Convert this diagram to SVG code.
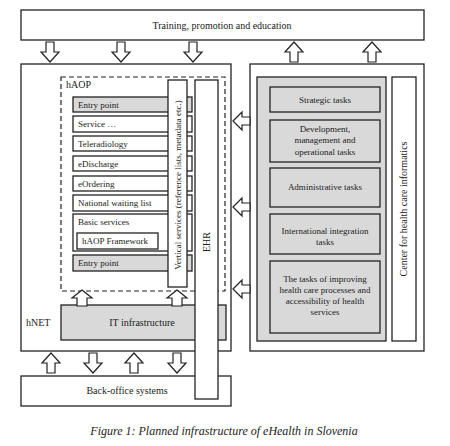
<svg xmlns="http://www.w3.org/2000/svg" width="450" height="446" viewBox="0 0 450 446" font-family="'Liberation Serif', 'Times New Roman', serif">
<style>
  text { font-family: 'Liberation Serif', 'Times New Roman', serif; fill: #222; }
  .box { fill: #fff; stroke: #222; stroke-width: 1.3; }
  .gbox { fill: #d9d9d9; stroke: #222; stroke-width: 1.3; }
  .dash { fill: none; stroke: #222; stroke-width: 1.2; stroke-dasharray: 5 3; }
  .arr { fill: #fff; stroke: #222; stroke-width: 1.2; stroke-linejoin: miter; }
  .t9 { font-size: 9px; }
  .t10 { font-size: 10px; }
  .mid { text-anchor: middle; }
</style>
<defs>
  <path id="down" d="M-4,0 h8 v10 h5 l-9,10 l-9,-10 h5 z"/>
  <path id="up" d="M0,0 l9,10 h-5 v10 h-8 v-10 h-5 z"/>
  <path id="upS" d="M0,0 l10,8 h-5 v8 h-10 v-8 h-5 z"/>
  <path id="left" d="M0,0 l9,-9 v5 h8 v8 h-8 v5 z"/>
</defs>

<g id="training">
  <rect class="box" x="21" y="10" width="403" height="30"/>
  <text class="t10 mid" x="222" y="29">Training, promotion and education</text>
</g>

<g id="hnet">
  <rect class="box" x="21" y="64" width="210" height="287"/>
  <text class="t10" x="26" y="326">hNET</text>
</g>

<g id="haop">
  <rect class="dash" x="61" y="77" width="164" height="214"/>
  <text class="t10" x="66" y="88">hAOP</text>
</g>

<g id="entry-top">
  <rect class="gbox" x="73" y="97" width="119" height="15"/>
  <text class="t9" x="78" y="108">Entry point</text>
</g>
<g id="service">
  <rect class="box" x="73" y="116" width="119" height="16"/>
  <text class="t9" x="78" y="127">Service …</text>
</g>
<g id="teleradiology">
  <rect class="box" x="73" y="136" width="119" height="15"/>
  <text class="t9" x="78" y="147">Teleradiology</text>
</g>
<g id="edischarge">
  <rect class="box" x="73" y="156" width="119" height="15"/>
  <text class="t9" x="78" y="167">eDischarge</text>
</g>
<g id="eordering">
  <rect class="box" x="73" y="176" width="119" height="15"/>
  <text class="t9" x="78" y="187">eOrdering</text>
</g>
<g id="waiting-list">
  <rect class="box" x="73" y="195" width="119" height="16"/>
  <text class="t9" x="78" y="206">National waiting list</text>
</g>
<g id="basic-services">
  <rect class="box" x="73" y="214" width="119" height="37"/>
  <text class="t9" x="78" y="225">Basic services</text>
</g>
<g id="haop-framework">
  <rect class="box" x="77" y="233" width="81" height="16"/>
  <text class="t9" x="82" y="244">hAOP Framework</text>
</g>
<g id="entry-bottom">
  <rect class="gbox" x="73" y="255" width="119" height="16"/>
  <text class="t9" x="78" y="266">Entry point</text>
</g>

<g id="vertical-services">
  <rect class="box" x="168" y="80" width="19" height="207"/>
  <text class="t9 mid" transform="translate(181,185) rotate(-90)">Vertical services (reference lists, metadata etc.)</text>
</g>

<g id="it-infrastructure">
  <rect class="gbox" x="61" y="305" width="165" height="35"/>
  <text class="t10 mid" x="142" y="326">IT infrastructure</text>
</g>

<g id="backoffice">
  <rect class="box" x="21" y="376" width="210" height="30"/>
  <text class="t10 mid" x="127" y="394">Back-office systems</text>
</g>

<g id="ehr">
  <rect class="box" x="195" y="80" width="23" height="319"/>
  <text class="t10 mid" transform="translate(210,242) rotate(-90)">EHR</text>
</g>

<g id="center-panel">
  <rect class="box" x="250" y="64" width="174" height="287"/>
  <rect class="gbox" x="257" y="77" width="129" height="264"/>
</g>
<g id="center-informatics">
  <rect class="box" x="392" y="77" width="24" height="264"/>
  <text class="t10 mid" transform="translate(407,209) rotate(-90)">Center for health care informatics</text>
</g>
<g id="strategic">
  <rect class="gbox" x="270" y="87" width="110" height="25"/>
  <text class="t9 mid" x="325" y="103">Strategic tasks</text>
</g>
<g id="development">
  <rect class="gbox" x="270" y="120" width="110" height="42"/>
  <text class="t9 mid" x="325" y="132">Development,</text>
  <text class="t9 mid" x="325" y="143">management and</text>
  <text class="t9 mid" x="325" y="155">operational tasks</text>
</g>
<g id="administrative">
  <rect class="gbox" x="270" y="168" width="110" height="39"/>
  <text class="t9 mid" x="325" y="190">Administrative tasks</text>
</g>
<g id="international">
  <rect class="gbox" x="270" y="214" width="110" height="40"/>
  <text class="t9 mid" x="325" y="234">International integration</text>
  <text class="t9 mid" x="325" y="245">tasks</text>
</g>
<g id="improving">
  <rect class="gbox" x="270" y="261" width="110" height="72"/>
  <text class="t9 mid" x="325" y="282">The tasks of improving</text>
  <text class="t9 mid" x="325" y="293">health care processes and</text>
  <text class="t9 mid" x="325" y="304">accessibility of health</text>
  <text class="t9 mid" x="325" y="315">services</text>
</g>

<g id="connectors">
  <use href="#down" class="arr" x="50" y="42"/>
  <use href="#down" class="arr" x="121" y="42"/>
  <use href="#down" class="arr" x="193" y="42"/>
  <use href="#up" class="arr" x="294" y="42"/>
  <use href="#up" class="arr" x="372" y="42"/>
  <use href="#left" class="arr" x="233" y="121"/>
  <use href="#left" class="arr" x="233" y="207"/>
  <use href="#left" class="arr" x="233" y="289"/>
  <use href="#upS" class="arr" x="82" y="290"/>
  <use href="#upS" class="arr" x="177" y="290"/>
  <use href="#up" class="arr" x="51" y="353"/>
  <use href="#down" class="arr" x="93" y="353"/>
  <use href="#up" class="arr" x="134" y="353"/>
  <use href="#down" class="arr" x="177" y="353"/>
</g>

<text x="224" y="435" class="mid" style="font-size:12px;font-style:italic">Figure 1: Planned infrastructure of eHealth in Slovenia</text>
</svg>
